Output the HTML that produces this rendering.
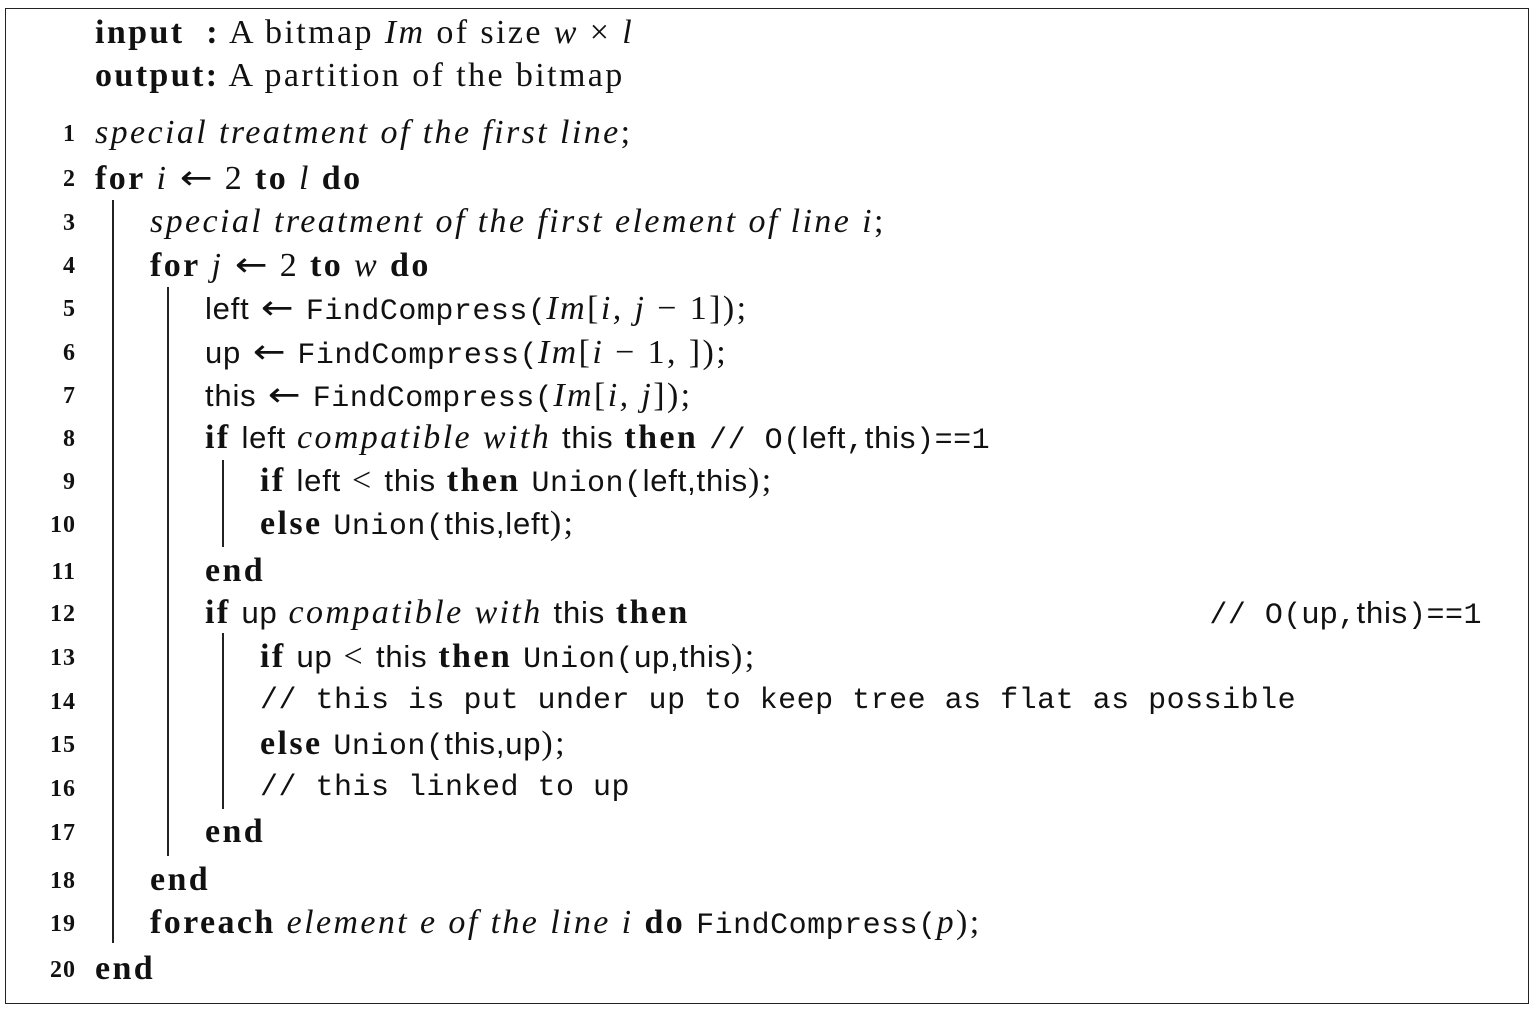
<!DOCTYPE html>
<html><head><meta charset="utf-8"><style>
html,body{margin:0;padding:0;background:#fff;}
body{width:1537px;height:1009px;position:relative;overflow:hidden;font-family:"Liberation Serif",serif;font-size:34px;letter-spacing:2.4px;color:#111;}
.box{position:absolute;left:5px;top:8px;width:1524px;height:996px;border:1.5px solid #222;box-sizing:border-box;}
.l{position:absolute;height:40px;line-height:40px;white-space:nowrap;}
.n{position:absolute;width:44px;left:32px;text-align:right;font-weight:bold;font-size:24px;letter-spacing:1px;height:40px;line-height:40px;}
.s{font-family:"Liberation Sans",sans-serif;font-size:31px;letter-spacing:0.8px;}
.m{font-family:"Liberation Mono",monospace;font-size:30px;letter-spacing:0.5px;}
.a{font-family:"DejaVu Sans",sans-serif;font-size:34px;letter-spacing:0;display:inline-block;transform:scaleX(1.15);margin:0 3px;}
b{font-weight:bold;}
i{font-style:italic;}
.bar{position:absolute;width:2px;background:#222;}
</style></head><body>
<div class="box"></div>
<div class="l" style="left:95px;top:13px"><b>input&nbsp;&nbsp;:</b> A bitmap <i>Im</i> of size <i>w</i> × <i>l</i></div>
<div class="l" style="left:95px;top:56px"><b>output:</b> A partition of the bitmap</div>

<div class="n" style="top:114px">1</div><div class="l" style="left:95px;top:113px"><i>special treatment of the first line</i>;</div>
<div class="n" style="top:159px">2</div><div class="l" style="left:95px;top:158px"><b>for</b> <i>i</i> <span class="a">←</span> 2 <b>to</b> <i>l</i> <b>do</b></div>
<div class="n" style="top:203px">3</div><div class="l" style="left:150px;top:202px"><i>special treatment of the first element of line i</i>;</div>
<div class="n" style="top:246px">4</div><div class="l" style="left:150px;top:245px"><b>for</b> <i>j</i> <span class="a">←</span> 2 <b>to</b> <i>w</i> <b>do</b></div>
<div class="n" style="top:289px">5</div><div class="l" style="left:205px;top:288px"><span class="s">left</span> <span class="a">←</span> <span class="m">FindCompress(</span><i>Im</i>[<i>i, j</i> − 1]);</div>
<div class="n" style="top:333px">6</div><div class="l" style="left:205px;top:332px"><span class="s">up</span> <span class="a">←</span> <span class="m">FindCompress(</span><i>Im</i>[<i>i</i> − 1, ]);</div>
<div class="n" style="top:376px">7</div><div class="l" style="left:205px;top:375px"><span class="s">this</span> <span class="a">←</span> <span class="m">FindCompress(</span><i>Im</i>[<i>i, j</i>]);</div>
<div class="n" style="top:419px">8</div><div class="l" style="left:205px;top:418px"><b>if</b> <span class="s">left</span> <i>compatible with</i> <span class="s">this</span> <b>then</b> <span class="m">// O(</span><span class="s">left</span><span class="m">,</span><span class="s">this</span><span class="m">)==1</span></div>
<div class="n" style="top:462px">9</div><div class="l" style="left:260px;top:461px"><b>if</b> <span class="s">left</span> &lt; <span class="s">this</span> <b>then</b> <span class="m">Union(</span><span class="s">left,this</span>);</div>
<div class="n" style="top:505px">10</div><div class="l" style="left:260px;top:504px"><b>else</b> <span class="m">Union(</span><span class="s">this,left</span>);</div>
<div class="n" style="top:552px">11</div><div class="l" style="left:205px;top:551px"><b>end</b></div>
<div class="n" style="top:594px">12</div><div class="l" style="left:205px;top:593px"><b>if</b> <span class="s">up</span> <i>compatible with</i> <span class="s">this</span> <b>then</b></div>
<div class="l" style="right:55px;top:593px"><span class="m">// O(</span><span class="s">up</span><span class="m">,</span><span class="s">this</span><span class="m">)==1</span></div>
<div class="n" style="top:638px">13</div><div class="l" style="left:260px;top:637px"><b>if</b> <span class="s">up</span> &lt; <span class="s">this</span> <b>then</b> <span class="m">Union(</span><span class="s">up,this</span>);</div>
<div class="n" style="top:682px">14</div><div class="l m" style="left:260px;top:681px">// this is put under up to keep tree as flat as possible</div>
<div class="n" style="top:725px">15</div><div class="l" style="left:260px;top:724px"><b>else</b> <span class="m">Union(</span><span class="s">this,up</span>);</div>
<div class="n" style="top:769px">16</div><div class="l m" style="left:260px;top:768px">// this linked to up</div>
<div class="n" style="top:813px">17</div><div class="l" style="left:205px;top:812px"><b>end</b></div>
<div class="n" style="top:861px">18</div><div class="l" style="left:150px;top:860px"><b>end</b></div>
<div class="n" style="top:904px">19</div><div class="l" style="left:150px;top:903px"><b>foreach</b> <i>element e of the line i</i> <b>do</b> <span class="m">FindCompress(</span><i>p</i>);</div>
<div class="n" style="top:950px">20</div><div class="l" style="left:95px;top:949px"><b>end</b></div>

<div class="bar" style="left:112px;top:200px;height:743px"></div>
<div class="bar" style="left:167px;top:287px;height:569px"></div>
<div class="bar" style="left:222px;top:460px;height:87px"></div>
<div class="bar" style="left:222px;top:633px;height:176px"></div>
</body></html>
